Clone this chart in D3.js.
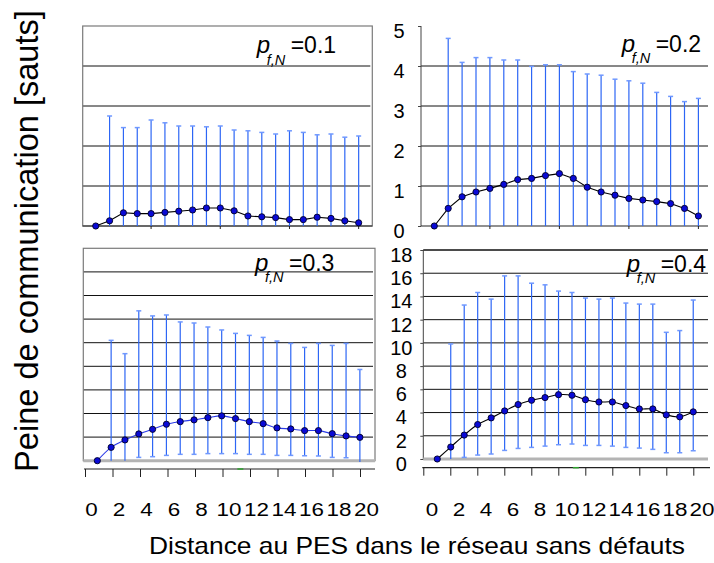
<!DOCTYPE html>
<html>
<head>
<meta charset="utf-8">
<script src="https://cdn.jsdelivr.net/npm/d3@7/dist/d3.min.js"></script>
<style>
    body { margin: 0; background: #fff; }
    svg { display: block; font-family: 'Liberation Sans', Arial, sans-serif; }
</style>
</head>
<body>
<svg class="chart"></svg>
<script>
const width = 714
const height = 563

const distances = [1, 2, 3, 4, 5, 6, 7, 8, 9, 10, 11, 12, 13, 14, 15, 16, 17, 18, 19, 20]
const bottomTicks = [0, 2, 4, 6, 8, 10, 12, 14, 16, 18, 20]
const innerTicks = [5, 10, 15, 20]

const ticksSmall = [0, 1, 2, 3, 4, 5]
const gridSmall = [1, 2, 3, 4]
const ticksLarge = [0, 2, 4, 6, 8, 10, 12, 14, 16, 18]
const gridLeftLarge = [2, 4, 6, 8, 10, 12, 14, 16]
const gridRightLarge = [2, 4, 6, 8, 10, 12, 14, 16, 18]

const pLabels = ['0.1', '0.2', '0.3', '0.4']

// p = 0.1
const mean01 = [0, 0.13, 0.33, 0.31, 0.31, 0.34, 0.37, 0.40, 0.45, 0.45, 0.38, 0.25, 0.23, 0.21, 0.16, 0.16, 0.22, 0.19, 0.13, 0.08]
const upper01 = [null, 2.75, 2.46, 2.46, 2.65, 2.58, 2.50, 2.50, 2.48, 2.50, 2.40, 2.38, 2.34, 2.30, 2.38, 2.34, 2.28, 2.30, 2.22, 2.25]
const lower01 = [null, 0, 0, 0, 0, 0, 0, 0, 0, 0, 0, 0, 0, 0, 0, 0, 0, 0, 0, 0]

// p = 0.2
const mean02 = [0, 0.44, 0.73, 0.85, 0.94, 1.04, 1.16, 1.19, 1.26, 1.31, 1.19, 0.97, 0.85, 0.77, 0.69, 0.65, 0.61, 0.56, 0.44, 0.25]
const upper02 = [null, 4.69, 4.09, 4.21, 4.21, 4.15, 4.15, 3.99, 4.03, 4.03, 3.86, 3.80, 3.77, 3.67, 3.63, 3.57, 3.34, 3.24, 3.11, 3.19]
const lower02 = [null, 0, 0, 0, 0, 0, 0, 0, 0, 0, 0, 0, 0, 0, 0, 0, 0, 0, 0, 0]

// p = 0.3
const mean03 = [0, 1.13, 1.76, 2.27, 2.66, 3.09, 3.31, 3.46, 3.65, 3.80, 3.57, 3.31, 3.14, 2.78, 2.69, 2.55, 2.55, 2.29, 2.10, 1.98]
const upper03 = [null, 10.2, 9.07, 12.7, 12.27, 12.35, 11.76, 11.67, 11.33, 11.08, 10.79, 10.62, 10.45, 10.14, 9.94, 9.6, 9.94, 9.77, 9.94, 7.73]
const lower03 = [null, 0, 0, 0.28, 0.34, 0.45, 0.54, 0.54, 0.6, 0.6, 0.6, 0.54, 0.54, 0.45, 0.45, 0.42, 0.4, 0.28, 0.25, -0.1]

// p = 0.4
const mean04 = [0, 1.03, 2.06, 2.97, 3.54, 4.14, 4.69, 5.06, 5.29, 5.54, 5.49, 5.11, 4.91, 4.91, 4.60, 4.31, 4.31, 3.80, 3.63, 4.06]
const upper04 = [null, 9.91, 13.26, 14.34, 13.77, 15.77, 15.77, 15.14, 15.0, 14.46, 14.34, 13.86, 13.77, 13.86, 13.43, 13.34, 13.34, 10.91, 11.06, 13.69]
const lower04 = [null, 0, 0.14, 0.34, 0.43, 0.74, 0.91, 1.0, 1.11, 1.23, 1.29, 1.17, 1.17, 1.11, 1.0, 0.94, 0.83, 0.54, 0.54, 0.71]

const barColor = '#2d66f5'
const capColor = '#6f98ff'
const fontFamily = "'Liberation Sans', Arial, sans-serif"

const panels = [
    { label: pLabels[0], mean: mean01, upper: upper01, lower: lower01,
      xRange: [81.9, 372.5], left: 82.7, right: 372.3, top: 26, bottom: 226, yMax: 5,
      grid: gridSmall, ticks: null, box: true, greyBase: false, lowCaps: false,
      lineColor: '#000', curve: d3.curveLinear, labelX: 256.7, labelY: 53.3 },
    { label: pLabels[1], mean: mean02, upper: upper02, lower: lower02,
      xRange: [420.4, 712.3], left: 421, right: 708, top: 26, bottom: 226, yMax: 5,
      grid: gridSmall, ticks: ticksSmall, box: false, greyBase: false, lowCaps: false,
      lineColor: '#000', curve: d3.curveLinear, labelX: 621.7, labelY: 51.7 },
    { label: pLabels[2], mean: mean03, upper: upper03, lower: lower03,
      xRange: [83.5, 373.7], left: 83.3, right: 375, top: 248.3, bottom: 460.7, yMax: 18,
      grid: gridLeftLarge, ticks: null, box: true, greyBase: true, lowCaps: true,
      lineColor: '#2b3be8', curve: d3.curveCatmullRom, labelX: 255, labelY: 270.7 },
    { label: pLabels[3], mean: mean04, upper: upper04, lower: lower04,
      xRange: [423.8, 706.7], left: 423.3, right: 708, top: 250, bottom: 459, yMax: 18,
      grid: gridRightLarge, ticks: ticksLarge, box: false, greyBase: true, lowCaps: true,
      lineColor: '#000', curve: d3.curveCatmullRom, labelX: 626.7, labelY: 271.7 }
]

const svg = d3.select('.chart')
    .attr('width', width)
    .attr('height', height)

const drawPanel = p => {
    const x = d3.scaleLinear().domain([0, 21]).range(p.xRange)
    const y = d3.scaleLinear().domain([0, p.yMax]).range([p.bottom, p.top])
    const g = svg.append('g')

    g.selectAll('.grid')
            .data(p.grid)
        .enter().append('line')
        .attr('stroke', '#111')
        .attr('stroke-width', 1)
        .attr('x1', p.left)
        .attr('x2', p.box ? p.right - 2 : p.right)
        .attr('y1', d => y(d))
        .attr('y2', d => y(d))

    if (p.box) {
        g.append('rect')
            .attr('x', p.left)
            .attr('y', p.top)
            .attr('width', p.right - p.left)
            .attr('height', p.bottom - p.top)
            .attr('fill', 'none')
            .attr('stroke', '#7a7a7a')
            .attr('stroke-width', 1.2)
    } else {
        g.append('line')
            .attr('stroke', '#444')
            .attr('x1', p.left).attr('x2', p.left)
            .attr('y1', p.top).attr('y2', p.bottom)
        if (p.yMax === 18) {
            g.append('line')
                .attr('stroke', '#111')
                .attr('x1', p.left).attr('x2', p.right)
                .attr('y1', p.top).attr('y2', p.top)
        }
    }

    const base = g.append('line')
        .attr('x1', p.left)
        .attr('x2', p.right)
        .attr('y1', p.bottom)
        .attr('y2', p.bottom)
    if (p.greyBase) {
        base.attr('stroke', '#b4b4b4').attr('stroke-width', 3)
    } else {
        base.attr('stroke', '#222').attr('stroke-width', 1.2)
        g.selectAll('.itick')
                .data(innerTicks)
            .enter().append('line')
            .attr('stroke', '#222')
            .attr('x1', d => x(d)).attr('x2', d => x(d))
            .attr('y1', p.bottom).attr('y2', p.bottom + 3)
    }

    if (p.ticks) {
        const axis = g.append('g')
            .attr('transform', `translate(${p.left},0)`)
            .call(d3.axisLeft(y).tickValues(p.ticks).tickSize(3).tickFormat(d3.format('d')))
        axis.attr('font-family', fontFamily).attr('font-size', 20)
        axis.select('.domain').remove()
        axis.selectAll('line').attr('stroke', '#444')
        axis.selectAll('text')
            .attr('fill', '#000')
            .attr('text-anchor', 'middle')
            .attr('x', -22)
            .attr('y', 5)
    }

    const rows = distances.map((d, i) => ({
        d, mean: p.mean[i], upper: p.upper[i], lower: p.lower[i]
    }))
    const withBars = rows.filter(r => r.upper !== null)

    g.selectAll('.bar')
            .data(withBars)
        .enter().append('line')
        .attr('stroke', barColor)
        .attr('stroke-width', 1.2)
        .attr('x1', r => x(r.d)).attr('x2', r => x(r.d))
        .attr('y1', r => y(r.lower)).attr('y2', r => y(r.upper))

    g.selectAll('.cap')
            .data(withBars)
        .enter().append('line')
        .attr('stroke', capColor)
        .attr('stroke-width', 1.5)
        .attr('x1', r => x(r.d) - 2.5).attr('x2', r => x(r.d) + 2.5)
        .attr('y1', r => y(r.upper)).attr('y2', r => y(r.upper))

    if (p.lowCaps) {
        g.selectAll('.lcap')
                .data(withBars.filter(r => r.lower > 0))
            .enter().append('line')
            .attr('stroke', capColor)
            .attr('stroke-width', 1.5)
            .attr('x1', r => x(r.d) - 2.5).attr('x2', r => x(r.d) + 2.5)
            .attr('y1', r => y(r.lower)).attr('y2', r => y(r.lower))
    }

    const line = d3.line()
        .x(r => x(r.d))
        .y(r => y(r.mean))
        .curve(p.curve)

    g.append('path')
        .datum(rows)
        .attr('fill', 'none')
        .attr('stroke', p.lineColor)
        .attr('stroke-width', 1.1)
        .attr('d', line)

    g.selectAll('.dot')
            .data(rows)
        .enter().append('circle')
        .attr('cx', r => x(r.d))
        .attr('cy', r => y(r.mean))
        .attr('r', 3.1)
        .attr('fill', '#0a0ad6')
        .attr('stroke', '#000026')
        .attr('stroke-width', 0.9)

    const label = g.append('text')
        .attr('fill', '#000')
        .attr('y', p.labelY)
    label.append('tspan')
        .attr('x', p.labelX)
        .attr('font-size', 24)
        .attr('font-style', 'italic')
        .text('p')
    label.append('tspan')
        .attr('x', p.labelX + 10)
        .attr('dy', 11.5)
        .attr('font-size', 14.5)
        .attr('font-style', 'italic')
        .text('f,N')
    label.append('tspan')
        .attr('x', p.labelX + 34)
        .attr('dy', -11.5)
        .attr('font-size', 23)
        .text(`=${p.label}`)
}

panels.forEach(drawPanel)

const drawBottomAxis = (range, lineY, lineEnd, dx) => {
    const x = d3.scaleLinear().domain([0, 20]).range(range)
    const axis = svg.append('g')
        .attr('transform', `translate(0,${lineY})`)
        .call(d3.axisBottom(x).tickValues(bottomTicks).tickSize(8))
    axis.attr('font-family', fontFamily).attr('font-size', 19)
    axis.select('.domain').remove()
    axis.selectAll('line').attr('stroke', '#222')
    axis.append('line')
        .attr('stroke', '#222')
        .attr('stroke-width', 1.2)
        .attr('x1', range[0] - 1)
        .attr('x2', lineEnd)
    axis.append('line')
        .attr('stroke', '#2ca02c')
        .attr('stroke-width', 1.5)
        .attr('x1', x(11.3) - 3)
        .attr('x2', x(11.3) + 3)
    axis.selectAll('text')
        .attr('fill', '#000')
        .attr('dy', 0)
        .attr('y', 516 - lineY)
        .attr('x', dx)
        .attr('transform', 'scale(1.18,1)')
}

drawBottomAxis([85, 360], 469, 375, 5)
drawBottomAxis([423.3, 693.3], 467.7, 710, 7)

svg.append('text')
    .text('Distance au PES dans le réseau sans défauts')
    .attr('x', 417)
    .attr('y', 554)
    .attr('text-anchor', 'middle')
    .attr('font-size', 24)
    .attr('textLength', 536)
    .attr('lengthAdjust', 'spacingAndGlyphs')

svg.append('text')
    .text('Peine de communication [sauts]')
    .attr('transform', 'translate(38.3,241) rotate(-90)')
    .attr('text-anchor', 'middle')
    .attr('font-size', 32.6)
</script>
</body>
</html>
